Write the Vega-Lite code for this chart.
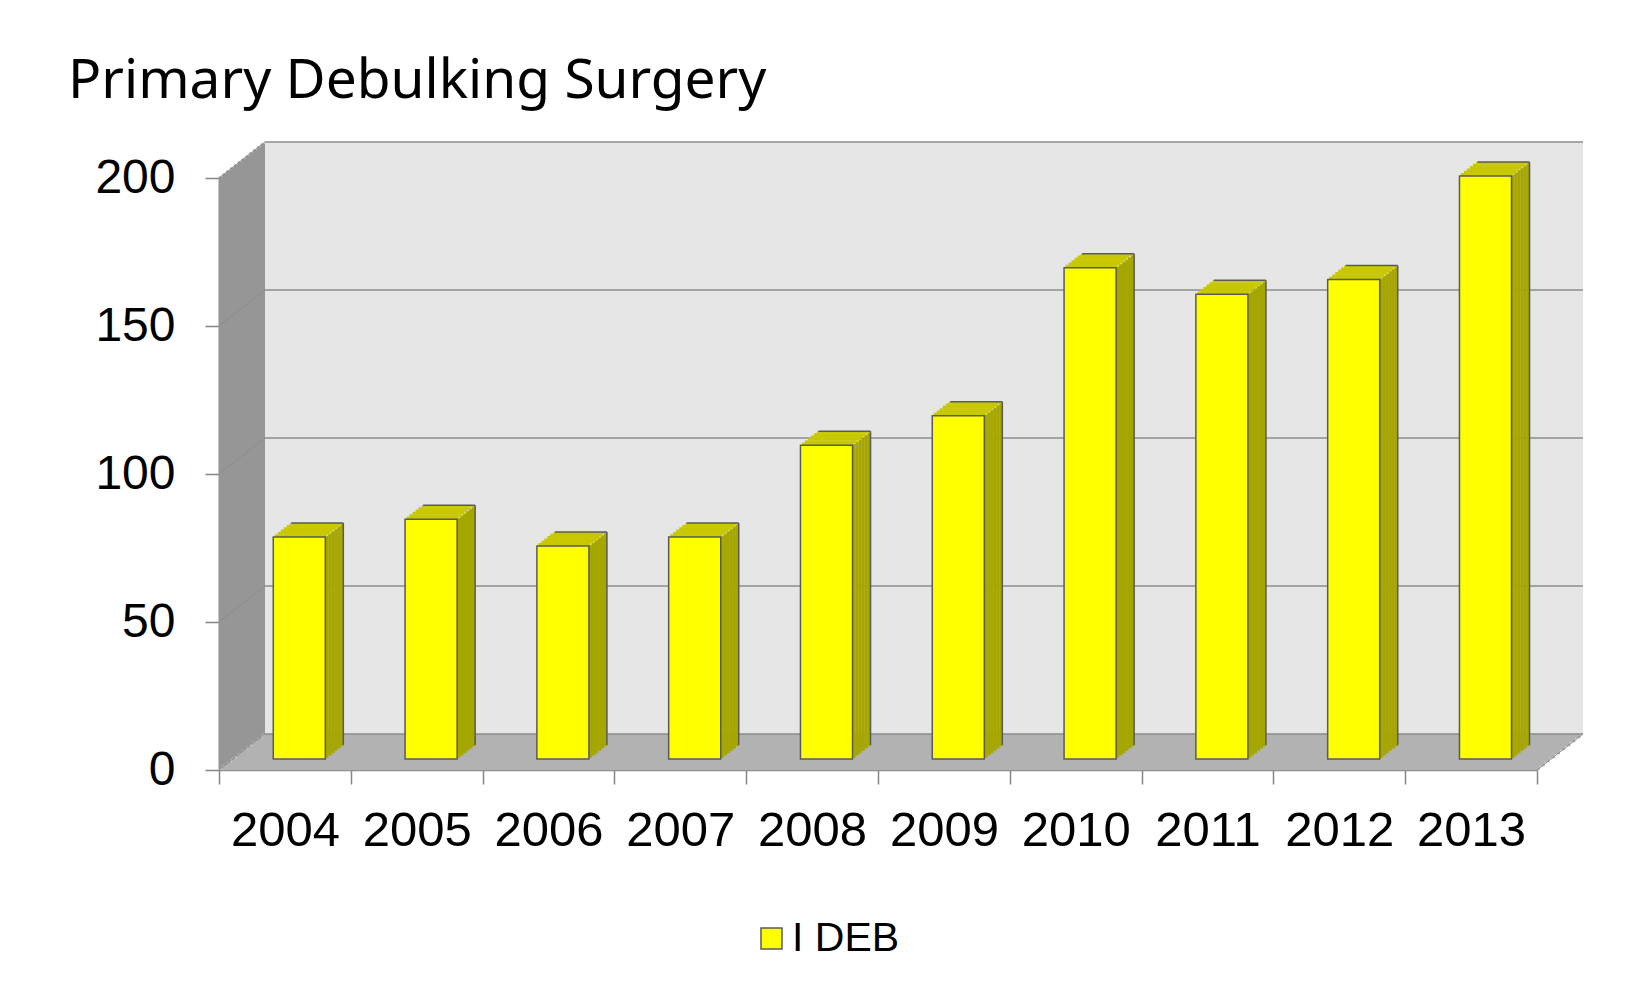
{
  "$schema": "https://vega.github.io/schema/vega-lite/v6.json",
  "width": 1318,
  "height": 592,
  "autosize": {"type": "none"},
  "padding": {"left": 219, "top": 178, "right": 97, "bottom": 212},
  "background": "white",
  "title": {"text": "Primary Debulking Surgery", "font": "Noto Sans", "fontSize": 55, "fontWeight": "normal", "color": "#000000", "anchor": "start", "frame": "group", "dx": -151, "dy": 56, "offset": 44, "baseline": "alphabetic"},
  "data": {"values": [
    {"year": "2004", "value": 75, "series": "I DEB"},
    {"year": "2005", "value": 81, "series": "I DEB"},
    {"year": "2006", "value": 72, "series": "I DEB"},
    {"year": "2007", "value": 75, "series": "I DEB"},
    {"year": "2008", "value": 106, "series": "I DEB"},
    {"year": "2009", "value": 116, "series": "I DEB"},
    {"year": "2010", "value": 166, "series": "I DEB"},
    {"year": "2011", "value": 157, "series": "I DEB"},
    {"year": "2012", "value": 162, "series": "I DEB"},
    {"year": "2013", "value": 197, "series": "I DEB"}
  ]},
  "config": {
    "view": {"stroke": null},
    "axis": {"labelFont": "Liberation Sans", "labelColor": "#000000", "domainColor": "#868686", "domainWidth": 1.5, "tickColor": "#868686", "tickWidth": 1.5, "tickSize": 14, "grid": false, "zindex": 1},
    "axisX": {"labelFontSize": 49, "labelPadding": 22, "tickBand": "extent", "labelAngle": 0},
    "axisY": {"labelFontSize": 48, "labelPadding": 30}
  },
  "layer": [
    {"data": {"values": [{}]}, "mark": {"type": "rule", "color": "#969696", "strokeWidth": 4.6, "xOffset": 1.92, "x2Offset": 1.92, "yOffset": -1.5, "y2Offset": -1.5}, "encoding": {"x": {"value": 0}, "y": {"datum": 0, "type": "quantitative"}, "y2": {"datum": 200}}},
    {"data": {"values": [{}]}, "mark": {"type": "rule", "color": "#969696", "strokeWidth": 4.6, "xOffset": 5.75, "x2Offset": 5.75, "yOffset": -4.5, "y2Offset": -4.5}, "encoding": {"x": {"value": 0}, "y": {"datum": 0, "type": "quantitative"}, "y2": {"datum": 200}}},
    {"data": {"values": [{}]}, "mark": {"type": "rule", "color": "#969696", "strokeWidth": 4.6, "xOffset": 9.58, "x2Offset": 9.58, "yOffset": -7.5, "y2Offset": -7.5}, "encoding": {"x": {"value": 0}, "y": {"datum": 0, "type": "quantitative"}, "y2": {"datum": 200}}},
    {"data": {"values": [{}]}, "mark": {"type": "rule", "color": "#969696", "strokeWidth": 4.6, "xOffset": 13.42, "x2Offset": 13.42, "yOffset": -10.5, "y2Offset": -10.5}, "encoding": {"x": {"value": 0}, "y": {"datum": 0, "type": "quantitative"}, "y2": {"datum": 200}}},
    {"data": {"values": [{}]}, "mark": {"type": "rule", "color": "#969696", "strokeWidth": 4.6, "xOffset": 17.25, "x2Offset": 17.25, "yOffset": -13.5, "y2Offset": -13.5}, "encoding": {"x": {"value": 0}, "y": {"datum": 0, "type": "quantitative"}, "y2": {"datum": 200}}},
    {"data": {"values": [{}]}, "mark": {"type": "rule", "color": "#969696", "strokeWidth": 4.6, "xOffset": 21.08, "x2Offset": 21.08, "yOffset": -16.5, "y2Offset": -16.5}, "encoding": {"x": {"value": 0}, "y": {"datum": 0, "type": "quantitative"}, "y2": {"datum": 200}}},
    {"data": {"values": [{}]}, "mark": {"type": "rule", "color": "#969696", "strokeWidth": 4.6, "xOffset": 24.92, "x2Offset": 24.92, "yOffset": -19.5, "y2Offset": -19.5}, "encoding": {"x": {"value": 0}, "y": {"datum": 0, "type": "quantitative"}, "y2": {"datum": 200}}},
    {"data": {"values": [{}]}, "mark": {"type": "rule", "color": "#969696", "strokeWidth": 4.6, "xOffset": 28.75, "x2Offset": 28.75, "yOffset": -22.5, "y2Offset": -22.5}, "encoding": {"x": {"value": 0}, "y": {"datum": 0, "type": "quantitative"}, "y2": {"datum": 200}}},
    {"data": {"values": [{}]}, "mark": {"type": "rule", "color": "#969696", "strokeWidth": 4.6, "xOffset": 32.58, "x2Offset": 32.58, "yOffset": -25.5, "y2Offset": -25.5}, "encoding": {"x": {"value": 0}, "y": {"datum": 0, "type": "quantitative"}, "y2": {"datum": 200}}},
    {"data": {"values": [{}]}, "mark": {"type": "rule", "color": "#969696", "strokeWidth": 4.6, "xOffset": 36.42, "x2Offset": 36.42, "yOffset": -28.5, "y2Offset": -28.5}, "encoding": {"x": {"value": 0}, "y": {"datum": 0, "type": "quantitative"}, "y2": {"datum": 200}}},
    {"data": {"values": [{}]}, "mark": {"type": "rule", "color": "#969696", "strokeWidth": 4.6, "xOffset": 40.25, "x2Offset": 40.25, "yOffset": -31.5, "y2Offset": -31.5}, "encoding": {"x": {"value": 0}, "y": {"datum": 0, "type": "quantitative"}, "y2": {"datum": 200}}},
    {"data": {"values": [{}]}, "mark": {"type": "rule", "color": "#969696", "strokeWidth": 4.6, "xOffset": 44.08, "x2Offset": 44.08, "yOffset": -34.5, "y2Offset": -34.5}, "encoding": {"x": {"value": 0}, "y": {"datum": 0, "type": "quantitative"}, "y2": {"datum": 200}}},
    {"data": {"values": [{}]}, "mark": {"type": "rect", "color": "#e6e6e6", "xOffset": 46, "x2Offset": 46, "yOffset": -36, "y2Offset": -36}, "encoding": {"x": {"value": 0}, "x2": {"value": "width"}, "y": {"datum": 0, "type": "quantitative"}, "y2": {"datum": 200}}},
    {"data": {"values": [{}]}, "mark": {"type": "rule", "color": "#b2b2b2", "strokeWidth": 4.6, "xOffset": 2.56, "x2Offset": 2.56, "yOffset": -2, "y2Offset": -2}, "encoding": {"x": {"value": 0}, "x2": {"value": "width"}, "y": {"datum": 0, "type": "quantitative"}}},
    {"data": {"values": [{}]}, "mark": {"type": "rule", "color": "#b2b2b2", "strokeWidth": 4.6, "xOffset": 7.67, "x2Offset": 7.67, "yOffset": -6, "y2Offset": -6}, "encoding": {"x": {"value": 0}, "x2": {"value": "width"}, "y": {"datum": 0, "type": "quantitative"}}},
    {"data": {"values": [{}]}, "mark": {"type": "rule", "color": "#b2b2b2", "strokeWidth": 4.6, "xOffset": 12.78, "x2Offset": 12.78, "yOffset": -10, "y2Offset": -10}, "encoding": {"x": {"value": 0}, "x2": {"value": "width"}, "y": {"datum": 0, "type": "quantitative"}}},
    {"data": {"values": [{}]}, "mark": {"type": "rule", "color": "#b2b2b2", "strokeWidth": 4.6, "xOffset": 17.89, "x2Offset": 17.89, "yOffset": -14, "y2Offset": -14}, "encoding": {"x": {"value": 0}, "x2": {"value": "width"}, "y": {"datum": 0, "type": "quantitative"}}},
    {"data": {"values": [{}]}, "mark": {"type": "rule", "color": "#b2b2b2", "strokeWidth": 4.6, "xOffset": 23, "x2Offset": 23, "yOffset": -18, "y2Offset": -18}, "encoding": {"x": {"value": 0}, "x2": {"value": "width"}, "y": {"datum": 0, "type": "quantitative"}}},
    {"data": {"values": [{}]}, "mark": {"type": "rule", "color": "#b2b2b2", "strokeWidth": 4.6, "xOffset": 28.11, "x2Offset": 28.11, "yOffset": -22, "y2Offset": -22}, "encoding": {"x": {"value": 0}, "x2": {"value": "width"}, "y": {"datum": 0, "type": "quantitative"}}},
    {"data": {"values": [{}]}, "mark": {"type": "rule", "color": "#b2b2b2", "strokeWidth": 4.6, "xOffset": 33.22, "x2Offset": 33.22, "yOffset": -26, "y2Offset": -26}, "encoding": {"x": {"value": 0}, "x2": {"value": "width"}, "y": {"datum": 0, "type": "quantitative"}}},
    {"data": {"values": [{}]}, "mark": {"type": "rule", "color": "#b2b2b2", "strokeWidth": 4.6, "xOffset": 38.33, "x2Offset": 38.33, "yOffset": -30, "y2Offset": -30}, "encoding": {"x": {"value": 0}, "x2": {"value": "width"}, "y": {"datum": 0, "type": "quantitative"}}},
    {"data": {"values": [{}]}, "mark": {"type": "rule", "color": "#b2b2b2", "strokeWidth": 4.6, "xOffset": 43.44, "x2Offset": 43.44, "yOffset": -34, "y2Offset": -34}, "encoding": {"x": {"value": 0}, "x2": {"value": "width"}, "y": {"datum": 0, "type": "quantitative"}}},
    {"data": {"values": [{"v": 0}, {"v": 50}, {"v": 100}, {"v": 150}, {"v": 200}]}, "mark": {"type": "rule", "color": "#8c8c8c", "strokeWidth": 1.5, "xOffset": 46, "x2Offset": 46, "yOffset": -36, "y2Offset": -36}, "encoding": {"x": {"value": 0}, "x2": {"value": "width"}, "y": {"field": "v", "type": "quantitative", "title": null}}},
    {"data": {"values": [{"v": 0}, {"v": 50}, {"v": 100}, {"v": 150}, {"v": 200}]}, "mark": {"type": "rule", "color": "#8c8c8c", "strokeWidth": 1, "x2Offset": 46, "y2Offset": -36}, "encoding": {"x": {"value": 0}, "x2": {"value": 0}, "y": {"field": "v", "type": "quantitative", "title": null}, "y2": {"field": "v"}}},
    {"data": {"values": [{}]}, "mark": {"type": "rule", "color": "#8c8c8c", "strokeWidth": 1, "x2Offset": 46, "y2Offset": -36}, "encoding": {"x": {"value": "width"}, "x2": {"value": "width"}, "y": {"datum": 0, "type": "quantitative"}, "y2": {"datum": 0}}},

    {"mark": {"type": "rule", "color": "#a6a600", "strokeWidth": 3.3, "xOffset": 15.9, "x2Offset": 15.9, "yOffset": -12.17, "y2Offset": -12.17}, "encoding": {"x": {"field": "year", "type": "ordinal", "bandPosition": 0.6975, "scale": {"type": "band"}, "title": null}, "y": {"field": "value", "type": "quantitative", "title": null}, "y2": {"datum": 0}}},
    {"mark": {"type": "rule", "color": "#a6a600", "strokeWidth": 3.3, "xOffset": 18.9, "x2Offset": 18.9, "yOffset": -14.5, "y2Offset": -14.5}, "encoding": {"x": {"field": "year", "type": "ordinal", "bandPosition": 0.6975, "scale": {"type": "band"}, "title": null}, "y": {"field": "value", "type": "quantitative", "title": null}, "y2": {"datum": 0}}},
    {"mark": {"type": "rule", "color": "#a6a600", "strokeWidth": 3.3, "xOffset": 21.9, "x2Offset": 21.9, "yOffset": -16.83, "y2Offset": -16.83}, "encoding": {"x": {"field": "year", "type": "ordinal", "bandPosition": 0.6975, "scale": {"type": "band"}, "title": null}, "y": {"field": "value", "type": "quantitative", "title": null}, "y2": {"datum": 0}}},
    {"mark": {"type": "rule", "color": "#a6a600", "strokeWidth": 3.3, "xOffset": 24.9, "x2Offset": 24.9, "yOffset": -19.17, "y2Offset": -19.17}, "encoding": {"x": {"field": "year", "type": "ordinal", "bandPosition": 0.6975, "scale": {"type": "band"}, "title": null}, "y": {"field": "value", "type": "quantitative", "title": null}, "y2": {"datum": 0}}},
    {"mark": {"type": "rule", "color": "#a6a600", "strokeWidth": 3.3, "xOffset": 27.9, "x2Offset": 27.9, "yOffset": -21.5, "y2Offset": -21.5}, "encoding": {"x": {"field": "year", "type": "ordinal", "bandPosition": 0.6975, "scale": {"type": "band"}, "title": null}, "y": {"field": "value", "type": "quantitative", "title": null}, "y2": {"datum": 0}}},
    {"mark": {"type": "rule", "color": "#a6a600", "strokeWidth": 3.3, "xOffset": 30.9, "x2Offset": 30.9, "yOffset": -23.83, "y2Offset": -23.83}, "encoding": {"x": {"field": "year", "type": "ordinal", "bandPosition": 0.6975, "scale": {"type": "band"}, "title": null}, "y": {"field": "value", "type": "quantitative", "title": null}, "y2": {"datum": 0}}},

    {"mark": {"type": "bar", "color": "#c8c800", "width": {"band": 0.395}, "xOffset": 15.9, "x2Offset": 15.9, "yOffset": -13.8, "y2Offset": -11}, "encoding": {"x": {"field": "year", "type": "ordinal", "scale": {"type": "band"}, "title": null}, "y": {"field": "value", "type": "quantitative", "title": null}, "y2": {"field": "value"}}},
    {"mark": {"type": "bar", "color": "#c8c800", "width": {"band": 0.395}, "xOffset": 18.9, "x2Offset": 18.9, "yOffset": -16.1, "y2Offset": -13.33}, "encoding": {"x": {"field": "year", "type": "ordinal", "scale": {"type": "band"}, "title": null}, "y": {"field": "value", "type": "quantitative", "title": null}, "y2": {"field": "value"}}},
    {"mark": {"type": "bar", "color": "#c8c800", "width": {"band": 0.395}, "xOffset": 21.9, "x2Offset": 21.9, "yOffset": -18.4, "y2Offset": -15.67}, "encoding": {"x": {"field": "year", "type": "ordinal", "scale": {"type": "band"}, "title": null}, "y": {"field": "value", "type": "quantitative", "title": null}, "y2": {"field": "value"}}},
    {"mark": {"type": "bar", "color": "#c8c800", "width": {"band": 0.395}, "xOffset": 24.9, "x2Offset": 24.9, "yOffset": -20.8, "y2Offset": -18}, "encoding": {"x": {"field": "year", "type": "ordinal", "scale": {"type": "band"}, "title": null}, "y": {"field": "value", "type": "quantitative", "title": null}, "y2": {"field": "value"}}},
    {"mark": {"type": "bar", "color": "#c8c800", "width": {"band": 0.395}, "xOffset": 27.9, "x2Offset": 27.9, "yOffset": -23.1, "y2Offset": -20.33}, "encoding": {"x": {"field": "year", "type": "ordinal", "scale": {"type": "band"}, "title": null}, "y": {"field": "value", "type": "quantitative", "title": null}, "y2": {"field": "value"}}},
    {"mark": {"type": "bar", "color": "#c8c800", "width": {"band": 0.395}, "xOffset": 30.9, "x2Offset": 30.9, "yOffset": -25, "y2Offset": -22.67}, "encoding": {"x": {"field": "year", "type": "ordinal", "scale": {"type": "band"}, "title": null}, "y": {"field": "value", "type": "quantitative", "title": null}, "y2": {"field": "value"}}},

    {"mark": {"type": "bar", "stroke": "#5a5a5a", "strokeWidth": 1.5, "width": {"band": 0.395}, "xOffset": 14.4, "x2Offset": 14.4, "yOffset": -11, "y2Offset": -11}, "encoding": {
      "x": {"field": "year", "type": "ordinal", "title": null, "scale": {"type": "band", "paddingInner": 0, "paddingOuter": 0}, "axis": {"title": null}},
      "y": {"field": "value", "type": "quantitative", "title": null, "scale": {"domain": [0, 200], "nice": false}, "axis": {"title": null, "values": [0, 50, 100, 150, 200]}},
      "y2": {"datum": 0},
      "color": {"field": "series", "type": "nominal", "scale": {"range": ["#ffff00"]}, "legend": {"orient": "none", "legendX": 532, "legendY": 740, "title": null, "symbolType": "square", "symbolSize": 441, "symbolStrokeColor": "#5a5a5a", "symbolStrokeWidth": 1.5, "symbolFillColor": "#ffff00", "labelFontSize": 41, "labelFont": "Liberation Sans", "labelColor": "#000000", "padding": 0, "labelOffset": 0}}
    }},
    {"mark": {"type": "rule", "color": "#5a5a5a", "strokeWidth": 1.5, "xOffset": 32.4, "x2Offset": 32.4, "yOffset": -25, "y2Offset": -25}, "encoding": {"x": {"field": "year", "type": "ordinal", "bandPosition": 0.6975, "scale": {"type": "band"}, "title": null}, "y": {"field": "value", "type": "quantitative", "title": null}, "y2": {"datum": 0}}},
    {"mark": {"type": "bar", "fillOpacity": 0, "stroke": "#5a5a5a", "strokeWidth": 1.5, "width": {"band": 0.395}, "xOffset": 32.4, "x2Offset": 32.4, "yOffset": -25, "y2Offset": -25}, "encoding": {"x": {"field": "year", "type": "ordinal", "scale": {"type": "band"}, "title": null}, "y": {"field": "value", "type": "quantitative", "title": null}, "y2": {"field": "value"}}}
  ]
}
